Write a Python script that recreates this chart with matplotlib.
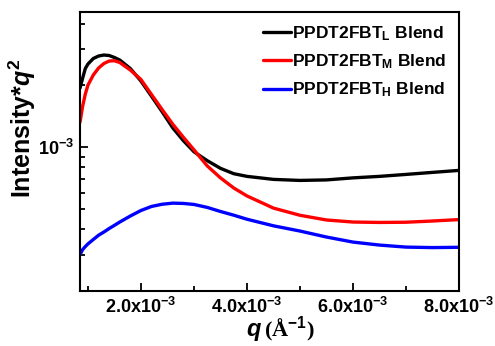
import matplotlib
matplotlib.use("Agg")
import matplotlib.pyplot as plt
from matplotlib.ticker import FixedLocator, FuncFormatter, LogLocator, NullFormatter

plt.rcParams['font.family'] = ['Liberation Sans', 'DejaVu Sans']
plt.rcParams['font.weight'] = 'bold'
plt.rcParams['mathtext.fontset'] = 'custom'
plt.rcParams['mathtext.rm'] = 'Liberation Sans:bold'
plt.rcParams['mathtext.bf'] = 'Liberation Sans:bold'
plt.rcParams['mathtext.it'] = 'Liberation Sans:bold:italic'

# data (q in 1/Å, intensity*q^2)
q = [0.85e-3, 0.9e-3, 0.95e-3, 1.0e-3, 1.1e-3, 1.2e-3, 1.3e-3, 1.4e-3, 1.5e-3, 1.6e-3,
     1.8e-3, 2.0e-3, 2.2e-3, 2.4e-3, 2.6e-3, 2.8e-3, 3.0e-3, 3.25e-3, 3.5e-3, 3.75e-3,
     4.0e-3, 4.5e-3, 5.0e-3, 5.5e-3, 6.0e-3, 6.5e-3, 7.0e-3, 7.5e-3, 8.0e-3]
blend_L = [1.940e-3, 2.171e-3, 2.415e-3, 2.541e-3, 2.702e-3, 2.779e-3, 2.810e-3, 2.795e-3,
           2.733e-3, 2.657e-3, 2.415e-3, 2.099e-3, 1.769e-3, 1.488e-3, 1.243e-3, 1.077e-3,
           0.951e-3, 0.861e-3, 0.790e-3, 0.744e-3, 0.722e-3, 0.698e-3, 0.690e-3, 0.694e-3,
           0.710e-3, 0.722e-3, 0.738e-3, 0.755e-3, 0.772e-3]
blend_M = [1.324e-3, 1.585e-3, 1.814e-3, 2.006e-3, 2.245e-3, 2.429e-3, 2.555e-3, 2.628e-3,
           2.636e-3, 2.584e-3, 2.375e-3, 2.135e-3, 1.804e-3, 1.525e-3, 1.295e-3, 1.119e-3,
           0.972e-3, 0.812e-3, 0.710e-3, 0.634e-3, 0.580e-3, 0.506e-3, 0.467e-3, 0.443e-3,
           0.433e-3, 0.431e-3, 0.432e-3, 0.438e-3, 0.445e-3]
blend_H = [0.3006e-3, 0.3180e-3, 0.3289e-3, 0.3390e-3, 0.3559e-3, 0.3735e-3, 0.3871e-3, 0.4026e-3,
           0.4173e-3, 0.4330e-3, 0.4633e-3, 0.4928e-3, 0.5156e-3, 0.5284e-3, 0.5350e-3, 0.5332e-3,
           0.5272e-3, 0.5100e-3, 0.4873e-3, 0.4675e-3, 0.4468e-3, 0.4150e-3, 0.3914e-3, 0.3660e-3,
           0.3459e-3, 0.3345e-3, 0.3270e-3, 0.3252e-3, 0.3263e-3]
labels = [r'PPDT2FBT$_{\mathbf{L}}$ Blend', r'PPDT2FBT$_{\mathbf{M}}$ Blend', r'PPDT2FBT$_{\mathbf{H}}$ Blend']
colors = ['#000000', '#ff0000', '#0000ff']
x_major = [2e-3, 4e-3, 6e-3, 8e-3]
x_minor = [1e-3, 3e-3, 5e-3, 7e-3]

fig = plt.figure(figsize=(4.95, 3.46), dpi=100)
ax = fig.add_axes([80/495, 55/346, 379/495, 279/346])

for ys, lab, c in zip([blend_L, blend_M, blend_H], labels, colors):
    ax.plot(q, ys, color=c, lw=2.4, label=lab, solid_capstyle='round', solid_joinstyle='round')

ax.set_yscale('log')
ax.set_xlim(0.85e-3, 8.0e-3)
ax.set_ylim(2.0e-4, 4.55e-3)

ax.xaxis.set_major_locator(FixedLocator(x_major))
ax.xaxis.set_minor_locator(FixedLocator(x_minor))
ax.xaxis.set_major_formatter(FuncFormatter(lambda v, p: r'%.1fx10$^{\mathbf{-3}}$' % (v * 1e3)))
ax.yaxis.set_major_locator(FixedLocator([1e-3]))
ax.yaxis.set_major_formatter(FuncFormatter(lambda v, p: r'10$^{\mathbf{-3}}$'))
ax.yaxis.set_minor_locator(LogLocator(base=10, subs=range(2, 10)))
ax.yaxis.set_minor_formatter(NullFormatter())

ax.tick_params(which='both', direction='in', top=False, right=False, width=1.3)
ax.tick_params(which='major', length=6, labelsize=13, pad=4)
ax.tick_params(which='minor', length=3.5)
for s in ax.spines.values():
    s.set_linewidth(1.5)

ax.set_ylabel(r'Intensity*$q^{\mathbf{2}}$', fontsize=18, fontweight='bold')
ax.yaxis.set_label_coords(-0.11, 0.585)
fig.text(0.529, 0.03, r'$q$', fontsize=17, ha='right', va='baseline')
fig.text(0.533, 0.03, r'(Å$^{\mathbf{-1}}$)', fontsize=16, ha='left', va='baseline',
         family='Liberation Serif', fontweight='bold')

leg = ax.legend(loc='upper right', frameon=False, fontsize=12.5, handlelength=1.6,
                handletextpad=0.1, labelspacing=0.55, borderaxespad=0.3)
for t in leg.get_texts():
    t.set_fontweight('bold')

fig.savefig('out.png', dpi=100)
